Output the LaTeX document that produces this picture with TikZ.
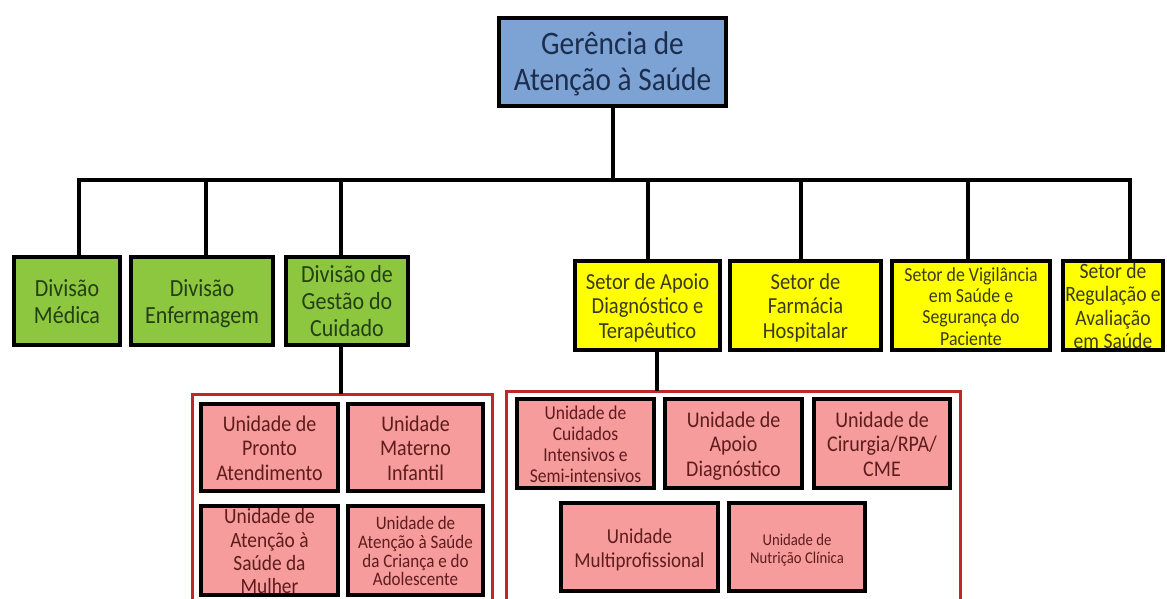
\documentclass[tikz,border=0pt]{standalone}
\usepackage{fontspec}
\setmainfont{Carlito}
\usepackage{graphicx}
\usetikzlibrary{calc}
\definecolor{gerblue}{HTML}{7DA2D4}
\definecolor{divgreen}{HTML}{8DC63F}
\definecolor{setyellow}{HTML}{FFFF00}
\definecolor{unipink}{HTML}{F69C9C}
\definecolor{framered}{HTML}{C02828}
\definecolor{navytext}{HTML}{1C2E4E}
\definecolor{greentext}{HTML}{243F14}
\definecolor{yellowtext}{HTML}{3A3A1E}
\definecolor{pinktext}{HTML}{5E1C1C}
\newcommand{\fsz}[2]{\fontsize{#1}{#2}\selectfont}
% labels are set a little taller than wide, as in the original chart
\newcommand{\boxtext}[1]{\raisebox{0pt}[\height][\dimexpr\depth-7pt\relax]{\scalebox{1}[1.12]{\begin{tabular}{@{}c@{}}#1\end{tabular}}}}

\begin{document}
\begin{tikzpicture}[x=1pt, y=-1pt,
    box/.style={draw=black, line width=4pt, align=center, inner sep=0pt},
    topbox/.style={box, fill=gerblue, text=navytext, minimum width=227, minimum height=88, font=\fsz{29.3}{31.3}},
    divbox/.style={box, fill=divgreen, text=greentext, minimum height=88, font=\fsz{22}{24}},
    setbox/.style={box, fill=setyellow, text=yellowtext, minimum height=89, font=\fsz{20.5}{22}},
    unibox/.style={box, fill=unipink, text=pinktext, font=\fsz{20}{22.3}},
    link/.style={draw=black, line width=4pt, line cap=rect},
    frame/.style={draw=framered, line width=3pt}]

    \useasboundingbox[fill=white] (0,0) rectangle (1167,599);

    % top
    \node[topbox] (ger) at (612.5,62) {\boxtext{Gerência de\\Atenção à Saúde}};

    % divisions and sectors
    \node[divbox, minimum width=106] (med) at (67,301) {\boxtext{Divisão\\Médica}};
    \node[divbox, minimum width=142] (enf) at (202,301) {\boxtext{Divisão\\Enfermagem}};
    \node[divbox, minimum width=122] (gest) at (347,301) {\boxtext{Divisão de\\Gestão do\\Cuidado}};

    \node[setbox, minimum width=145] (apoio) at (647.5,305.5) {\boxtext{Setor de Apoio\\Diagnóstico e\\Terapêutico}};
    \node[setbox, minimum width=151] (farm) at (805.5,305.5) {\boxtext{Setor de\\Farmácia\\Hospitalar}};
    \node[setbox, minimum width=158, font=\fsz{17.8}{19}] (vig) at (971,305.5) {\boxtext{Setor de Vigilância\\em Saúde e\\Segurança do\\Paciente}};
    \node[setbox, minimum width=100, font=\fsz{19.6}{21}] (reg) at (1113,305.5) {\boxtext{Setor de\\Regulação e\\Avaliação\\em Saúde}};

    % units
    \node[unibox, minimum width=137, minimum height=87] (pa) at (269.5,447.5) {\boxtext{Unidade de\\Pronto\\Atendimento}};
    \node[unibox, minimum width=135, minimum height=87] (mat) at (415.5,447.5) {\boxtext{Unidade\\Materno\\Infantil}};
    \node[unibox, minimum width=137, minimum height=89, font=\fsz{19.4}{20.8}] (mul) at (269.5,550.5) {\boxtext{Unidade de\\Atenção à\\Saúde da\\Mulher}};
    \node[unibox, minimum width=135, minimum height=89, font=\fsz{17}{16.5}] (cri) at (415.5,550.5) {\boxtext{Unidade de\\Atenção à Saúde\\da Criança e do\\Adolescente}};

    \node[unibox, minimum width=137, minimum height=89, font=\fsz{17.5}{18.7}] (uti) at (585.5,443.5) {\boxtext{Unidade de\\Cuidados\\Intensivos e\\Semi-intensivos}};
    \node[unibox, minimum width=137, minimum height=89] (apd) at (733.5,443.5) {\boxtext{Unidade de\\Apoio\\Diagnóstico}};
    \node[unibox, minimum width=136, minimum height=89] (cir) at (882,443.5) {\boxtext{Unidade de\\Cirurgia/RPA/\\CME}};
    \node[unibox, minimum width=157, minimum height=88, font=\fsz{19}{22.3}] (mpf) at (639.5,547) {\boxtext{Unidade\\Multiprofissional}};
    \node[unibox, minimum width=136, minimum height=88, font=\fsz{14.7}{16}] (nut) at (797,547) {\boxtext{Unidade de\\Nutrição Clínica}};

    % connectors
    \coordinate (bus) at (0,180);
    \draw[link] (ger.south) -- (ger.south |- bus);
    \foreach \n/\s in {med/12,enf/4,gest/-6,apoio/0,farm/-5,vig/-3,reg/17}{
        \coordinate (d\n) at ($(\n.north)+(\s,0)$);
        \draw[link] (d\n |- bus) -- (d\n);
    }
    \draw[link] (dmed |- bus) -- (dreg |- bus);

    \draw[frame] (192,599) |- (492,394) -- (492,599);
    \draw[frame] (506,599) |- (960,391) -- (960,599);
    \coordinate (f1) at (341,394);
    \coordinate (f2) at (657,391);
    \draw[link, line cap=butt] ($(gest.south)+(-6,0)$) -- (f1);
    \draw[link, line cap=butt] ($(apoio.south)+(9.5,0)$) -- (f2);

\end{tikzpicture}
\end{document}
